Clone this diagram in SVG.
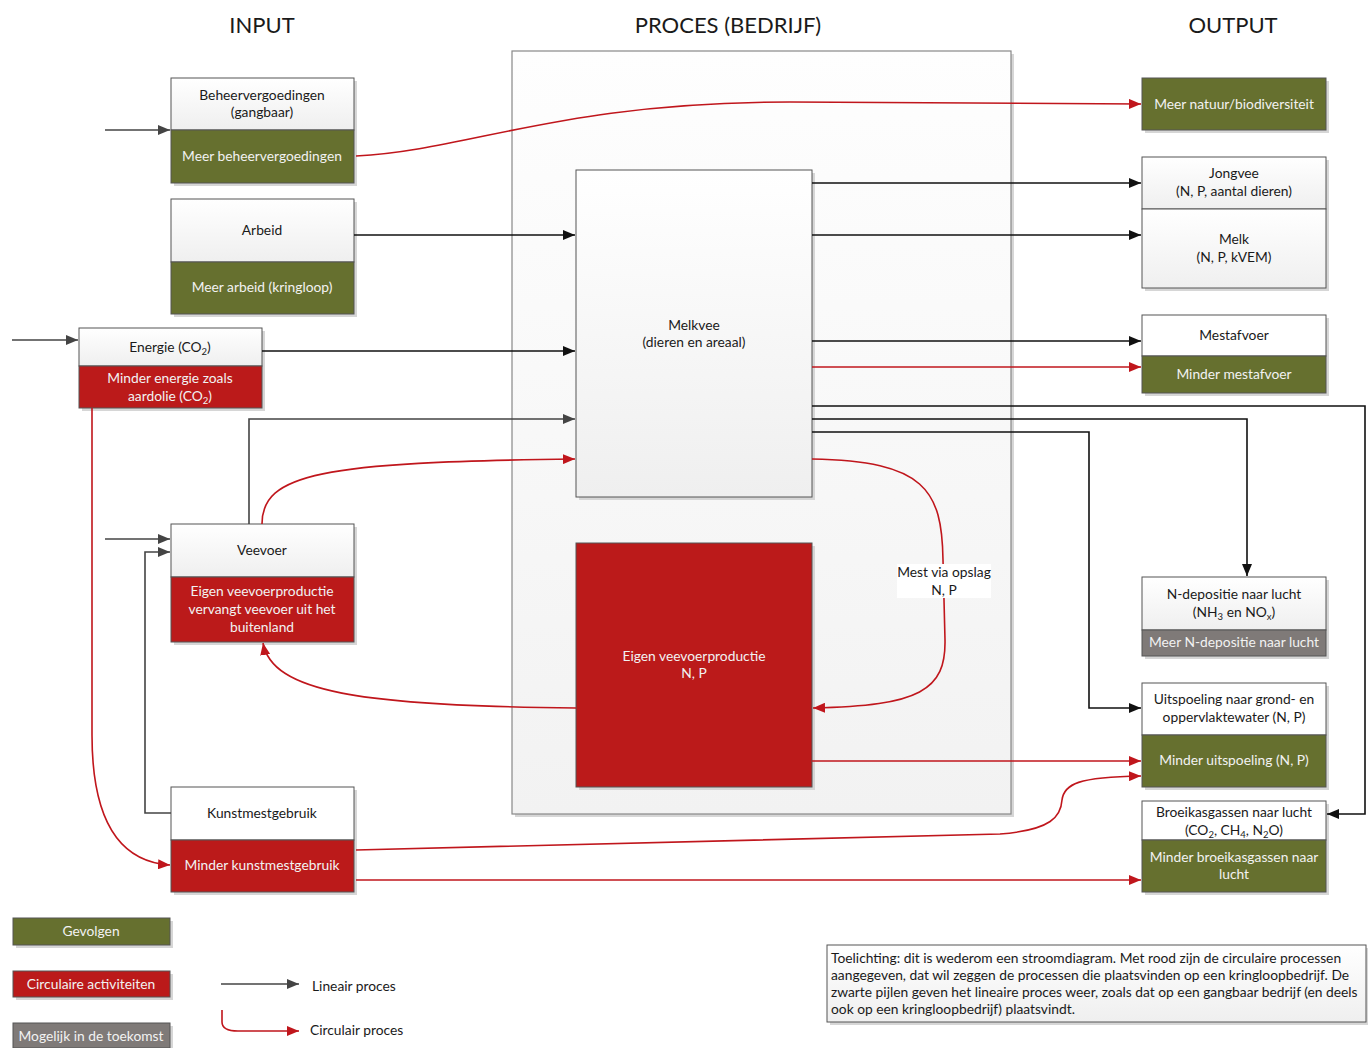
<svg xmlns="http://www.w3.org/2000/svg" width="1368" height="1048" viewBox="0 0 1368 1048">
<style>
.hdr{font-family:Lato,"Liberation Sans",sans-serif;font-size:22px;fill:#1a1a1a;text-anchor:middle}
.t{font-family:Lato,"Liberation Sans",sans-serif;font-size:13.8px;fill:#1a1a1a;text-anchor:middle}
.tw{fill:#f2f2f2}
.tl{text-anchor:start}
.top{fill:url(#gw);stroke:#555;stroke-width:1}
.wh{fill:#fff;stroke:#555;stroke-width:1}
.green{fill:#66702f;stroke:#555;stroke-width:1}
.red{fill:#bb1a1a;stroke:#555;stroke-width:1}
.gray{fill:#7f7a78;stroke:#555;stroke-width:1}
.sh{fill:#d6d6d6}
.c{fill:none;stroke-width:1.6}
.k{stroke:#111}
.g{stroke:#444}
.r{stroke:#c0161c}
.sub{font-size:9.5px}
</style>
<defs>
<linearGradient id="gw" x1="0" y1="0" x2="0" y2="1"><stop offset="0" stop-color="#ffffff"/><stop offset="1" stop-color="#efefef"/></linearGradient>
<linearGradient id="gc" x1="0" y1="0" x2="0" y2="1"><stop offset="0" stop-color="#fefefe"/><stop offset="1" stop-color="#f2f2f2"/></linearGradient>
<marker id="ak" markerUnits="userSpaceOnUse" markerWidth="12" markerHeight="10" refX="12" refY="5" orient="auto"><path d="M0,0 L12,5 L0,10 z" fill="#111"/></marker>
<marker id="ag" markerUnits="userSpaceOnUse" markerWidth="12" markerHeight="10" refX="12" refY="5" orient="auto"><path d="M0,0 L12,5 L0,10 z" fill="#444"/></marker>
<marker id="ar" markerUnits="userSpaceOnUse" markerWidth="12" markerHeight="10" refX="12" refY="5" orient="auto"><path d="M0,0 L12,5 L0,10 z" fill="#c0161c"/></marker>
</defs>
<rect width="1368" height="1048" fill="#fff"/>

<text class="hdr" x="262" y="33">INPUT</text>
<text class="hdr" x="728" y="33">PROCES (BEDRIJF)</text>
<text class="hdr" x="1233" y="33">OUTPUT</text>

<g id="proces">
<rect x="515" y="54" width="499" height="763" class="sh"/>
<rect x="512" y="51" width="499" height="763" fill="url(#gc)" stroke="#888" stroke-width="1.2"/>
</g>

<g id="melkvee">
<rect x="579" y="173" width="236" height="327" class="sh"/>
<rect x="576" y="170" width="236" height="327" class="top" stroke="#666"/>
<text class="t" x="694" y="330">Melkvee</text>
<text class="t" x="694" y="347">(dieren en areaal)</text>
</g>

<g id="eigen-veevoerproductie">
<rect x="579" y="546" width="236" height="244" class="sh"/>
<rect x="576" y="543" width="236" height="244" class="red"/>
<text class="t tw" x="694" y="661">Eigen veevoerproductie</text>
<text class="t tw" x="694" y="678">N, P</text>
</g>

<g id="beheervergoedingen">
<rect x="174" y="81" width="183" height="105" class="sh"/>
<rect x="171" y="78" width="183" height="52" class="top"/>
<rect x="171" y="130" width="183" height="53" class="green"/>
<text class="t" x="262" y="100">Beheervergoedingen</text>
<text class="t" x="262" y="117">(gangbaar)</text>
<text class="t tw" x="262" y="161">Meer beheervergoedingen</text>
</g>

<g id="arbeid">
<rect x="174" y="202" width="183" height="115" class="sh"/>
<rect x="171" y="199" width="183" height="63" class="top"/>
<rect x="171" y="262" width="183" height="52" class="green"/>
<text class="t" x="262" y="235">Arbeid</text>
<text class="t tw" x="262" y="292">Meer arbeid (kringloop)</text>
</g>

<g id="energie">
<rect x="82" y="331" width="183" height="80" class="sh"/>
<rect x="79" y="328" width="183" height="38" class="top"/>
<rect x="79" y="366" width="183" height="42" class="red"/>
<text class="t" x="170" y="352">Energie (CO<tspan class="sub" dy="3">2</tspan><tspan dy="-3">)</tspan></text>
<text class="t tw" x="170" y="383">Minder energie zoals</text>
<text class="t tw" x="170" y="401">aardolie (CO<tspan class="sub" dy="3">2</tspan><tspan dy="-3">)</tspan></text>
</g>

<g id="veevoer">
<rect x="174" y="527" width="183" height="118" class="sh"/>
<rect x="171" y="524" width="183" height="53" class="top"/>
<rect x="171" y="577" width="183" height="65" class="red"/>
<text class="t" x="262" y="555">Veevoer</text>
<text class="t tw" x="262" y="596">Eigen veevoerproductie</text>
<text class="t tw" x="262" y="614">vervangt veevoer uit het</text>
<text class="t tw" x="262" y="632">buitenland</text>
</g>

<g id="kunstmestgebruik">
<rect x="174" y="790" width="183" height="105" class="sh"/>
<rect x="171" y="787" width="183" height="53" class="wh"/>
<rect x="171" y="840" width="183" height="52" class="red"/>
<text class="t" x="262" y="818">Kunstmestgebruik</text>
<text class="t tw" x="262" y="870">Minder kunstmestgebruik</text>
</g>

<g id="natuur">
<rect x="1145" y="81" width="184" height="52" class="sh"/>
<rect x="1142" y="78" width="184" height="52" class="green"/>
<text class="t tw" x="1234" y="109">Meer natuur/biodiversiteit</text>
</g>

<g id="jongvee">
<rect x="1145" y="160" width="184" height="131" class="sh"/>
<rect x="1142" y="157" width="184" height="52" class="top"/>
<text class="t" x="1234" y="178">Jongvee</text>
<text class="t" x="1234" y="196">(N, P, aantal dieren)</text>
</g>

<g id="melk">
<rect x="1142" y="209" width="184" height="79" class="top"/>
<text class="t" x="1234" y="244">Melk</text>
<text class="t" x="1234" y="262">(N, P, kVEM)</text>
</g>

<g id="mestafvoer">
<rect x="1145" y="318" width="184" height="78" class="sh"/>
<rect x="1142" y="315" width="184" height="41" class="wh"/>
<rect x="1142" y="356" width="184" height="37" class="green"/>
<text class="t" x="1234" y="340">Mestafvoer</text>
<text class="t tw" x="1234" y="379">Minder mestafvoer</text>
</g>

<g id="n-depositie">
<rect x="1145" y="580" width="184" height="79" class="sh"/>
<rect x="1142" y="577" width="184" height="53" class="top"/>
<rect x="1142" y="630" width="184" height="26" class="gray"/>
<text class="t" x="1234" y="599">N-depositie naar lucht</text>
<text class="t" x="1234" y="617">(NH<tspan class="sub" dy="3">3</tspan><tspan dy="-3"> en NO</tspan><tspan class="sub" dy="3">x</tspan><tspan dy="-3">)</tspan></text>
<text class="t tw" x="1234" y="647">Meer N-depositie naar lucht</text>
</g>

<g id="uitspoeling">
<rect x="1145" y="686" width="184" height="104" class="sh"/>
<rect x="1142" y="683" width="184" height="52" class="wh"/>
<rect x="1142" y="735" width="184" height="52" class="green"/>
<text class="t" x="1234" y="704">Uitspoeling naar grond- en</text>
<text class="t" x="1234" y="722">oppervlaktewater (N, P)</text>
<text class="t tw" x="1234" y="765">Minder uitspoeling  (N, P)</text>
</g>

<g id="broeikasgassen">
<rect x="1145" y="804" width="184" height="91" class="sh"/>
<rect x="1142" y="801" width="184" height="39" class="wh"/>
<rect x="1142" y="840" width="184" height="52" class="green"/>
<text class="t" x="1234" y="817">Broeikasgassen naar lucht</text>
<text class="t" x="1234" y="835">(CO<tspan class="sub" dy="3">2</tspan><tspan dy="-3">, CH</tspan><tspan class="sub" dy="3">4</tspan><tspan dy="-3">, N</tspan><tspan class="sub" dy="3">2</tspan><tspan dy="-3">O)</tspan></text>
<text class="t tw" x="1234" y="862">Minder broeikasgassen naar</text>
<text class="t tw" x="1234" y="879">lucht</text>
</g>

<g id="connectors">
<path class="c g" d="M105,130 L170,130" marker-end="url(#ag)"/>
<path class="c g" d="M12,340 L78,340" marker-end="url(#ag)"/>
<path class="c g" d="M105,539 L170,539" marker-end="url(#ag)"/>
<path class="c g" d="M171,813 L145,813 L145,552 L170,552" marker-end="url(#ag)"/>
<path class="c g" d="M249,524 L249,419 L575,419" marker-end="url(#ag)"/>
<path class="c k" d="M354,235 L575,235" marker-end="url(#ak)"/>
<path class="c k" d="M262,351 L575,351" marker-end="url(#ak)"/>
<path class="c k" d="M812,183 L1141,183" marker-end="url(#ak)"/>
<path class="c k" d="M812,235 L1141,235" marker-end="url(#ak)"/>
<path class="c k" d="M812,341 L1141,341" marker-end="url(#ak)"/>
<path class="c k" d="M812,406 L1365,406 L1365,814 L1327,814" marker-end="url(#ak)"/>
<path class="c k" d="M812,419 L1247,419 L1247,576" marker-end="url(#ak)"/>
<path class="c k" d="M812,432 L1089,432 L1089,708 L1141,708" marker-end="url(#ak)"/>
<path class="c r" d="M262,524 C262,474 320,462 575,459" marker-end="url(#ar)"/>
<path class="c r" d="M356,156 C470,150 560,102 790,102 L1141,104" marker-end="url(#ar)"/>
<path class="c r" d="M812,367 L1141,367" marker-end="url(#ar)"/>
<path class="c r" d="M812,459 C925,461 942,490 943,560 L945,640 C946,690 920,706 813,708" marker-end="url(#ar)"/>
<path class="c r" d="M576,708 C360,706 272,692 263,643" marker-end="url(#ar)"/>
<path class="c r" d="M812,761 L1141,761" marker-end="url(#ar)"/>
<path class="c r" d="M356,850 L1000,834 C1052,830 1061,816 1062,800 C1064,784 1078,777 1141,776" marker-end="url(#ar)"/>
<path class="c r" d="M356,880 L1141,880" marker-end="url(#ar)"/>
<path class="c r" d="M92,408 L92,735 C92,825 122,862 170,865" marker-end="url(#ar)"/>
<rect x="897" y="564" width="94" height="34" fill="#fff"/>
<text class="t" x="944" y="577">Mest via opslag</text>
<text class="t" x="944" y="595">N, P</text>
</g>

<g id="legend">
<rect x="16" y="921" width="157" height="27" class="sh"/>
<rect x="13" y="918" width="157" height="27" class="green"/>
<text class="t tw" x="91" y="936">Gevolgen</text>
<rect x="16" y="974" width="157" height="26" class="sh"/>
<rect x="13" y="971" width="157" height="26" class="red"/>
<text class="t tw" x="91" y="989">Circulaire activiteiten</text>
<rect x="16" y="1026" width="157" height="25" class="sh"/>
<rect x="13" y="1023" width="157" height="25" class="gray"/>
<text class="t tw" x="91" y="1041">Mogelijk in de toekomst</text>
<path class="c g" d="M221,984 L299,984" marker-end="url(#ag)"/>
<text class="t tl" x="312" y="991">Lineair proces</text>
<path class="c r" d="M222,1010 L222,1022 C222,1029 228,1031 238,1031 L299,1031" marker-end="url(#ar)"/>
<text class="t tl" x="310" y="1035">Circulair proces</text>
</g>

<g id="toelichting">
<rect x="830" y="948" width="539" height="77" class="sh"/>
<rect x="827" y="945" width="539" height="77" fill="url(#gw)" stroke="#555"/>
<text class="t tl" x="831" y="963">Toelichting: dit is wederom een stroomdiagram. Met rood zijn de circulaire processen</text>
<text class="t tl" x="831" y="980">aangegeven, dat wil zeggen de processen die plaatsvinden op een kringloopbedrijf. De</text>
<text class="t tl" x="831" y="997">zwarte pijlen geven het lineaire proces weer, zoals dat op een gangbaar bedrijf (en deels</text>
<text class="t tl" x="831" y="1014">ook op een kringloopbedrijf) plaatsvindt.</text>
</g>
</svg>
